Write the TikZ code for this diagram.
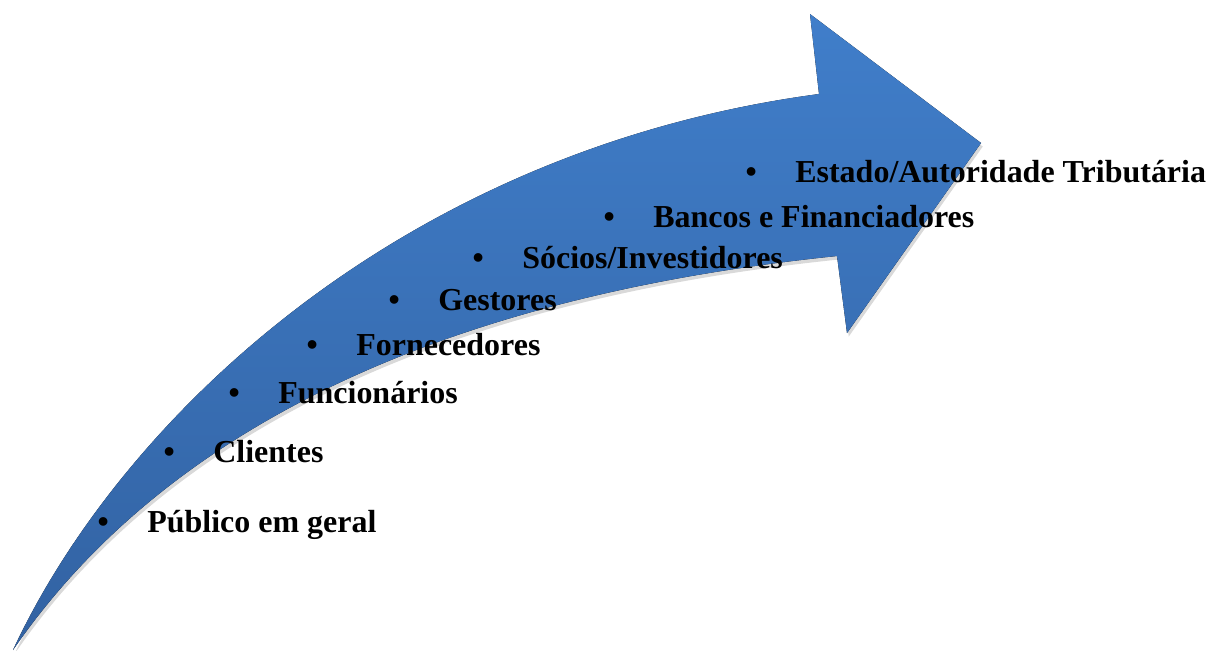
\documentclass[tikz,border=0pt]{standalone}
\usepackage{fontspec}
\setmainfont{Liberation Serif}
\usetikzlibrary{shadows}
\pgfdeclarelayer{edgelayer}
\pgfdeclarelayer{nodelayer}
\pgfsetlayers{edgelayer,nodelayer,main}
\definecolor{arrowtop}{RGB}{64,126,202}
\definecolor{arrowbottom}{RGB}{50,98,162}
\tikzstyle{none}=[inner sep=0pt]
\tikzstyle{item}=[inner sep=0pt,anchor=base west,font=\fontsize{18.2}{21}\selectfont\bfseries]
\tikzstyle{bigarrow}=[top color=arrowtop,bottom color=arrowbottom,draw=none,drop shadow={shadow xshift=1pt,shadow yshift=-2pt,opacity=0.3}]

\begin{document}
\begin{tikzpicture}[x=0.02cm,y=-0.02cm]
	\useasboundingbox (0,0) rectangle (1224,650);
	\begin{pgfonlayer}{nodelayer}
		\node [style=item] (0) at (147,532) {\llap{\textbullet\hspace{22pt}}Público em geral};
		\node [style=item] (1) at (213,462) {\llap{\textbullet\hspace{22pt}}Clientes};
		\node [style=item] (2) at (278,403) {\llap{\textbullet\hspace{22pt}}Funcionários};
		\node [style=item] (3) at (356,355) {\llap{\textbullet\hspace{22pt}}Fornecedores};
		\node [style=item] (4) at (438,310) {\llap{\textbullet\hspace{22pt}}Gestores};
		\node [style=item] (5) at (522,268) {\llap{\textbullet\hspace{22pt}}Sócios/Investidores};
		\node [style=item] (6) at (653,227) {\llap{\textbullet\hspace{22pt}}Bancos e Financiadores};
		\node [style=item] (7) at (795,182) {\llap{\textbullet\hspace{22pt}}Estado/Autoridade Tributária};
	\end{pgfonlayer}
	\begin{pgfonlayer}{edgelayer}
		\node [style=none] (8) at (13,650) {};
		\node [style=none] (9) at (819,94) {};
		\node [style=none] (10) at (810,14) {};
		\node [style=none] (11) at (981,143) {};
		\node [style=none] (12) at (847,333) {};
		\node [style=none] (13) at (837,256) {};
		\fill [style=bigarrow] (8.center) .. controls (120,420) and (400,150) .. (9.center) -- (10.center) -- (11.center) -- (12.center) -- (13.center) .. controls (360,305) and (130,480) .. (8.center) -- cycle;
	\end{pgfonlayer}
\end{tikzpicture}
\end{document}
